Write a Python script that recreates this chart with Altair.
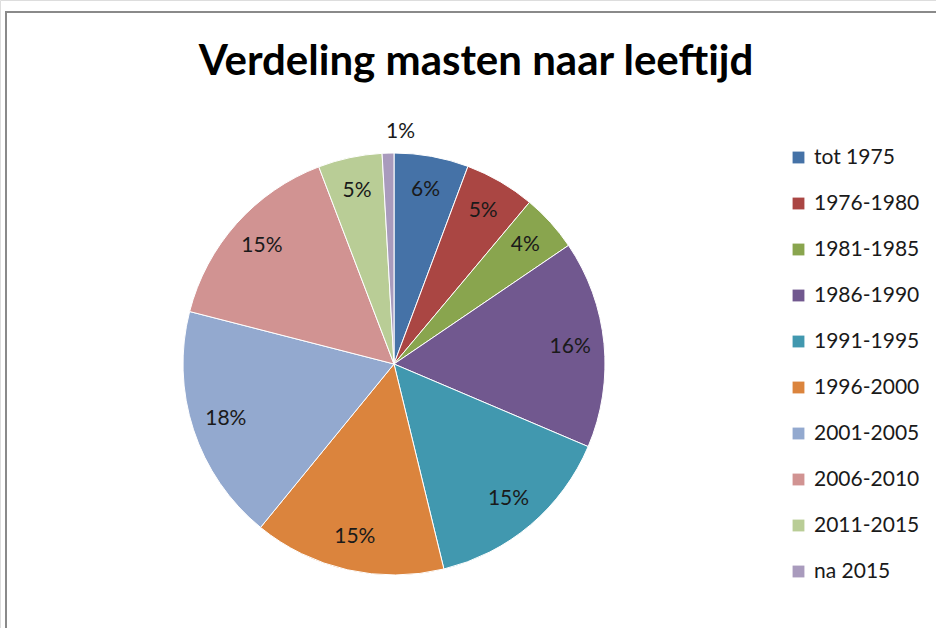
import altair as alt
import pandas as pd

categories = ["tot 1975", "1976-1980", "1981-1985", "1986-1990", "1991-1995",
              "1996-2000", "2001-2005", "2006-2010", "2011-2015", "na 2015"]
values = [5.7, 5.4, 4.4, 15.9, 14.8, 14.7, 18.1, 15.2, 4.9, 0.9]
colors = ["#4572A7", "#AA4643", "#89A54E", "#71588F", "#4198AF",
          "#DB843D", "#93A9CF", "#D19392", "#B9CD96", "#A99BBD"]
title_text = "Verdeling masten naar leeftijd"

df = pd.DataFrame({"cat": categories, "value": values, "idx": list(range(len(categories)))})

W, H = 936, 628
CX, CY, R = 394, 364, 211

base = alt.Chart(df).encode(
    theta=alt.Theta("value:Q", stack=True),
    order=alt.Order("idx:Q"),
)

arcs = base.mark_arc(radius=R, stroke="white", strokeWidth=1).encode(
    x=alt.value(CX), y=alt.value(CY),
    color=alt.Color("cat:N", scale=alt.Scale(domain=categories, range=colors),
                    sort=categories,
                    legend=alt.Legend(title=None, orient="none", legendX=788, legendY=147,
                                      symbolType="square", symbolSize=140,
                                      symbolStrokeWidth=0,
                                      labelFont="Lato", labelFontSize=21,
                                      labelColor="#1a1a1a", rowPadding=24,
                                      labelOffset=5)),
)

labels = base.transform_calculate(
    pct="round(datum.value) + '%'",
    lr="datum.value < 2 ? 232 : 177",
).mark_text(font="Lato", fontSize=21, color="#1a1a1a").encode(
    x=alt.value(CX), y=alt.value(CY),
    radius=alt.Radius("lr:Q", scale=None),
    text="pct:N",
)

title_df = pd.DataFrame({"t": [title_text]})
title = alt.Chart(title_df).mark_text(font="Lato", fontSize=42, fontWeight="bold",
                                       color="#000000", baseline="middle").encode(
    x=alt.value(476), y=alt.value(62), text="t:N")

frame_top = alt.Chart(title_df).mark_rule(color="#8a8a8a", strokeWidth=2).encode(
    x=alt.value(5), x2=alt.value(W), y=alt.value(12))
frame_left = alt.Chart(title_df).mark_rule(color="#8a8a8a", strokeWidth=2).encode(
    x=alt.value(6), y=alt.value(11), y2=alt.value(H))

chart = alt.layer(frame_top, frame_left, arcs, labels, title).properties(
    width=W, height=H, autosize=alt.AutoSizeParams(type="none"), padding=0,
).configure_view(stroke=None).configure(background="white")

chart.save("out.html", embed_options={"renderer": "svg", "actions": False})
